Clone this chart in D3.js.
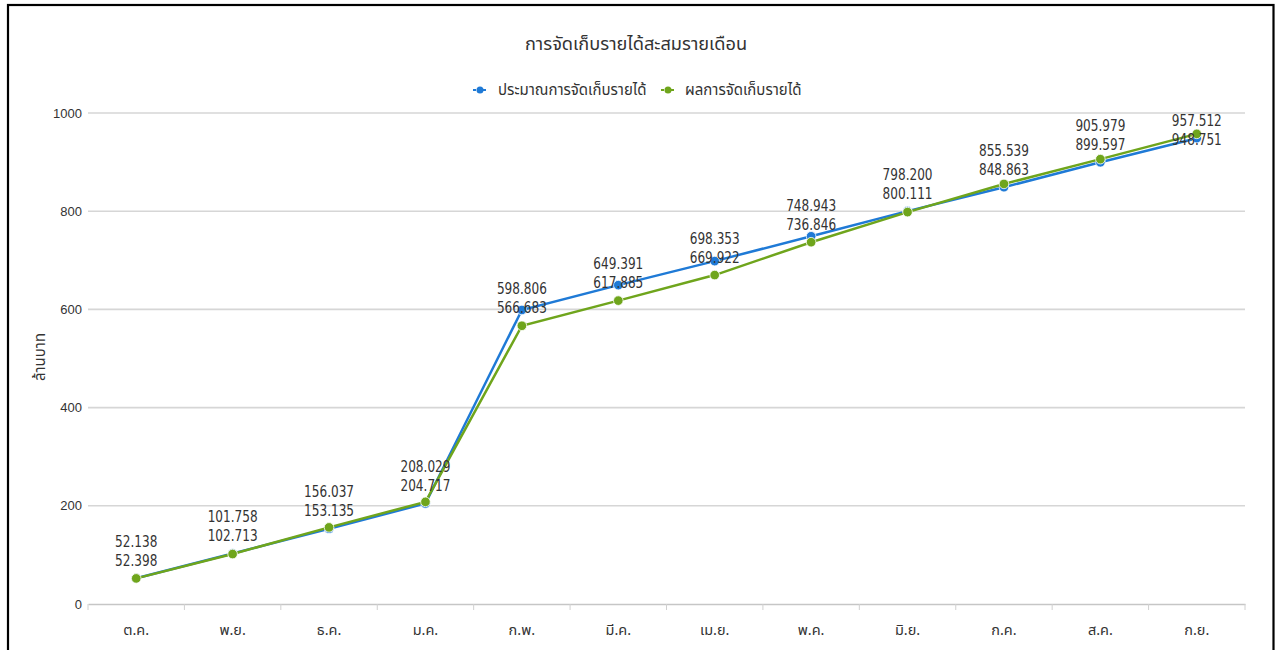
<!DOCTYPE html>
<html>
<head>
<meta charset="utf-8">
<script src="https://cdn.jsdelivr.net/npm/d3@7/dist/d3.min.js"></script>
<style>
  html, body { margin: 0; padding: 0; background: #fff; }
  svg { display: block; }
  text { font-family: "Noto Sans Thai", "Noto Sans Thai UI", Tahoma, "DejaVu Sans", "Liberation Sans", sans-serif; fill: #333; }
  .dl { font-family: "DejaVu Sans Condensed", "Liberation Sans", sans-serif; font-stretch: condensed; }
</style>
</head>
<body>
<svg id="chart" width="1276" height="650"></svg>
<script>
const categories = ["ต.ค.", "พ.ย.", "ธ.ค.", "ม.ค.", "ก.พ.", "มี.ค.", "เม.ย.", "พ.ค.", "มิ.ย.", "ก.ค.", "ส.ค.", "ก.ย."];
const estimate = [52.398, 102.713, 153.135, 204.717, 598.806, 649.391, 698.353, 748.943, 800.111, 848.863, 899.597, 948.751];
const actual   = [52.138, 101.758, 156.037, 208.029, 566.683, 617.885, 669.922, 736.846, 798.200, 855.539, 905.979, 957.512];
const yTicks = [0, 200, 400, 600, 800, 1000];
const titleText = "การจัดเก็บรายได้สะสมรายเดือน";
const yTitle = "ล้านบาท";
const seriesNames = ["ประมาณการจัดเก็บรายได้", "ผลการจัดเก็บรายได้"];
const colors = ["#1f7ad6", "#6fa51c"];

const svg = d3.select("#chart");
const pLeft = 88, pRight = 1245, pTop = 113, pBottom = 604;

// frame
svg.append("rect").attr("x", 8).attr("y", 5).attr("width", 1265.5).attr("height", 700)
  .attr("fill", "none").attr("stroke", "#000").attr("stroke-width", 2.2);

const x = d3.scaleBand().domain(categories).range([pLeft, pRight]);
const xc = d => x(d) + x.bandwidth() / 2;
const y = d3.scaleLinear().domain([0, 1000]).range([pBottom, pTop]);

// gridlines
svg.append("g").selectAll("line").data(yTicks.filter(t => t > 0)).join("line")
  .attr("x1", pLeft).attr("x2", pRight).attr("y1", d => y(d)).attr("y2", d => y(d))
  .attr("stroke", "#d6d6d6").attr("stroke-width", 1.6);

// y labels
svg.append("g").selectAll("text").data(yTicks).join("text")
  .attr("x", 82).attr("y", d => y(d)).attr("dy", "0.35em").attr("text-anchor", "end")
  .style("font-family", "'Liberation Sans', sans-serif").style("font-size", "13px").text(d => d);

// x axis
const xAxis = svg.append("g").attr("transform", `translate(0,${pBottom})`)
  .call(d3.axisBottom(x).tickSize(0).tickPadding(0).tickFormat(""));
xAxis.select(".domain").attr("stroke", "#c6c6c6").attr("stroke-width", 1.6);
const bounds = categories.map(c => x(c)).concat([pRight]);
svg.append("g").selectAll("line").data(bounds).join("line")
  .attr("x1", d => d).attr("x2", d => d).attr("y1", pBottom).attr("y2", pBottom + 6)
  .attr("stroke", "#d0d0d0").attr("stroke-width", 1);
svg.append("g").selectAll("text").data(categories).join("text")
  .attr("x", d => xc(d)).attr("y", 630).attr("dy", "0.35em").attr("text-anchor", "middle")
  .style("font-size", "14.5px").text(d => d);

// y title
svg.append("text").attr("transform", `translate(40,357) rotate(-90)`).attr("text-anchor", "middle")
  .attr("dy", "0.35em").style("font-size", "15px").text(yTitle);

// title
svg.append("text").attr("x", 636).attr("y", 44).attr("dy", "0.35em").attr("text-anchor", "middle")
  .style("font-size", "18.2px").text(titleText);

// legend
const legendItems = [{ name: seriesNames[0], color: colors[0], mx: 480, tx: 498 }, { name: seriesNames[1], color: colors[1], mx: 668, tx: 685 }];
const lg = svg.append("g").selectAll("g").data(legendItems).join("g");
lg.append("line").attr("x1", d => d.mx - 7).attr("x2", d => d.mx + 7).attr("y1", 90).attr("y2", 90)
  .attr("stroke", d => d.color).attr("stroke-width", 2).attr("stroke-dasharray", "3,2");
lg.append("circle").attr("cx", d => d.mx).attr("cy", 90).attr("r", 3.5).attr("fill", d => d.color);
lg.append("text").attr("x", d => d.tx).attr("y", 90).attr("dy", "0.35em").style("font-size", "15px").text(d => d.name);

// lines & markers
const series = [estimate, actual];
const line = d3.line().x((d, i) => xc(categories[i])).y(d => y(d));
series.forEach((s, k) => {
  svg.append("path").datum(s).attr("d", line).attr("fill", "none")
    .attr("stroke", colors[k]).attr("stroke-width", 2.5);
  svg.append("g").selectAll("circle").data(s).join("circle")
    .attr("cx", (d, i) => xc(categories[i])).attr("cy", d => y(d)).attr("r", 4.8)
    .attr("fill", colors[k]).attr("stroke", "#fff").attr("stroke-width", 0.8);
});

// data labels with simple collision avoidance, kept inside the plot top
const off = 18, gap = 19, minLabelY = 120;
const labelG = svg.append("g");
categories.forEach((c, i) => {
  const nb = y(estimate[i]) - off, na = y(actual[i]) - off;
  let yb = nb, ya = na;
  const actualOnTop = (na - nb) < 3;
  if (actualOnTop) {
    if (yb - ya < gap) ya = yb - gap;
    if (ya < minLabelY) { const s = minLabelY - ya; ya += s; yb += s; }
  } else {
    if (ya - yb < gap) yb = ya - gap;
    if (yb < minLabelY) { const s = minLabelY - yb; ya += s; yb += s; }
  }
  [[estimate[i], yb], [actual[i], ya]].forEach(([v, yy]) => {
    labelG.append("text").attr("class", "dl")
      .attr("transform", `translate(${xc(c)},${yy}) scale(0.84,1)`)
      .attr("dy", "0.35em").attr("text-anchor", "middle")
      .style("font-size", "16px").text(v.toFixed(3));
  });
});
</script>
</body>
</html>
